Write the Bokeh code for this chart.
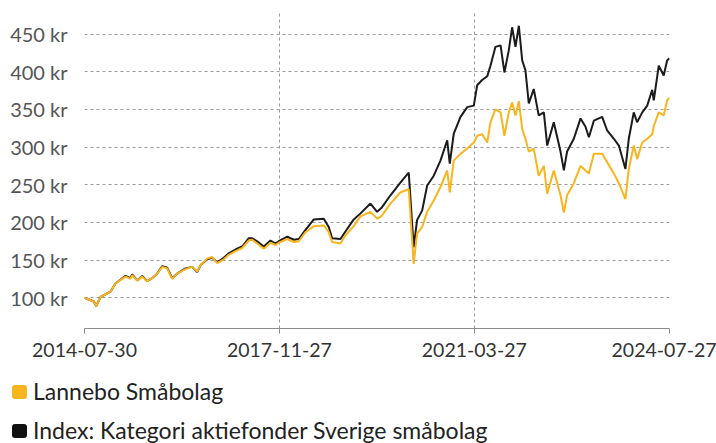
import pandas as pd
from bokeh.plotting import figure
from bokeh.layouts import column
from bokeh.models import Range1d, FixedTicker, DatetimeTickFormatter, Div
from bokeh.embed import file_html
from bokeh.resources import INLINE

# ---- data ----
dates = [
    "2014-07-30", "2014-09-26", "2014-10-11", "2014-11-07", "2015-01-08", "2015-02-08",
    "2015-04-12", "2015-05-13", "2015-05-23", "2015-06-24", "2015-07-25", "2015-08-25",
    "2015-09-25", "2015-10-26", "2015-11-27", "2015-12-28", "2016-01-28", "2016-02-28",
    "2016-04-20", "2016-06-01", "2016-07-02", "2016-07-23", "2016-09-02", "2016-10-04",
    "2016-11-04", "2016-12-15", "2017-01-15", "2017-02-26", "2017-04-09", "2017-05-20",
    "2017-06-10", "2017-07-11", "2017-08-22", "2017-10-02", "2017-11-03", "2017-11-23",
    "2018-01-15", "2018-02-25", "2018-03-28", "2018-05-09", "2018-06-30", "2018-08-31",
    "2018-10-01", "2018-10-22", "2018-12-13", "2019-01-13", "2019-03-06", "2019-04-17",
    "2019-06-18", "2019-07-30", "2019-08-25", "2019-10-21", "2019-12-23", "2020-02-12",
    "2020-03-14", "2020-04-04", "2020-05-06", "2020-06-06", "2020-07-17", "2020-08-28",
    "2020-10-09", "2020-10-25", "2020-11-19", "2020-12-31", "2021-02-11", "2021-03-24",
    "2021-04-14", "2021-05-15", "2021-06-16", "2021-07-06", "2021-08-06", "2021-09-07",
    "2021-10-01", "2021-10-28", "2021-11-18", "2021-12-09", "2021-12-30", "2022-01-20",
    "2022-02-09", "2022-03-02", "2022-04-02", "2022-05-03", "2022-06-04", "2022-06-25",
    "2022-08-05", "2022-09-16", "2022-10-07", "2022-10-27", "2022-12-08", "2023-01-19",
    "2023-02-19", "2023-03-12", "2023-04-12", "2023-06-03", "2023-07-04", "2023-08-15",
    "2023-09-15", "2023-10-26", "2023-11-16", "2023-12-17", "2024-01-07", "2024-02-08",
    "2024-03-10", "2024-04-10", "2024-04-20", "2024-05-21", "2024-06-21", "2024-07-12",
    "2024-07-27",
]
lannebo = [
    100, 95, 89, 101, 108, 119,
    128, 125, 130, 123, 128, 122,
    126, 132, 141, 139, 125, 132,
    138, 141, 135, 143, 152, 154,
    146, 151, 157, 162, 166, 176,
    177, 172, 165, 173, 170, 173,
    178, 174, 175, 187, 195, 196,
    187, 174, 172, 183, 195, 208,
    214, 205, 208, 225, 240, 244,
    145, 185, 194, 214, 229, 247,
    269, 240, 282, 291, 298, 306,
    315, 317, 306, 333, 350, 346,
    315, 346, 359, 342, 361, 324,
    311, 294, 298, 262, 275, 238,
    269, 236, 213, 236, 252, 275,
    269, 265, 291, 291, 280, 265,
    252, 231, 271, 302, 284, 306,
    311, 317, 328, 346, 342, 362,
    365,
]
index_vals = [
    100, 95, 89, 101, 108, 119,
    129, 126, 131, 123, 129, 122,
    126, 132, 142, 140, 126, 132,
    139, 141, 134, 143, 151, 153,
    147, 153, 159, 164, 168, 179,
    179, 175, 168, 176, 172, 175,
    181, 177, 178, 190, 204, 205,
    194, 179, 178, 188, 204, 212,
    225, 214, 219, 236, 253, 266,
    167, 203, 216, 249, 262, 282,
    309, 278, 318, 340, 353, 355,
    382, 389, 394, 408, 433, 435,
    399, 428, 459, 433, 461, 415,
    402, 358, 377, 342, 346, 302,
    333, 294, 269, 294, 311, 338,
    327, 313, 335, 340, 322, 311,
    302, 271, 311, 346, 333, 346,
    355, 376, 362, 408, 395, 415,
    418,
]
series_names = ["Lannebo Småbolag", "Index: Kategori aktiefonder Sverige småbolag"]
x_tick_dates = ["2014-07-30", "2017-11-27", "2021-03-27", "2024-07-27"]
y_ticks = [100, 150, 200, 250, 300, 350, 400, 450]
y_labels = [f"{v} kr" for v in y_ticks]

# ---- styling ----
ORANGE = "#F9B51E"
BLACK = "#1b1b1b"
FONT = "Lato"
series_colors = [ORANGE, "#111111"]

x = pd.to_datetime(dates)
xt = pd.to_datetime(x_tick_dates)
xt_ms = [t.value // 10**6 for t in xt]

p = figure(
    width=716, height=368, output_backend="svg", toolbar_location=None,
    x_axis_type="datetime",
    x_range=Range1d(xt[0], xt[-1]), y_range=Range1d(59.2, 478.6),
    min_border_left=84, min_border_right=47, min_border_top=12, min_border_bottom=40,
)
p.outline_line_color = None
p.background_fill_color = "white"

r_idx = p.line(x, index_vals, line_color=BLACK, line_width=2)
r_fund = p.line(x, lannebo, line_color=ORANGE, line_width=2)

# axes
p.xaxis.ticker = FixedTicker(ticks=xt_ms)
p.xaxis.formatter = DatetimeTickFormatter(
    years="%Y-%m-%d", months="%Y-%m-%d", days="%Y-%m-%d", hours="%Y-%m-%d")
p.xaxis.axis_line_color = "#8c8c8c"
p.xaxis.axis_line_width = 1
p.xaxis.major_tick_line_color = "#8c8c8c"
p.xaxis.major_tick_out = 5
p.xaxis.major_tick_in = 0
p.xaxis.minor_tick_line_color = None
p.xaxis.major_label_standoff = 9
p.xaxis.major_label_text_font = FONT
p.xaxis.major_label_text_font_size = "19.5px"
p.xaxis.major_label_text_color = "#333333"

p.yaxis.ticker = FixedTicker(ticks=y_ticks)
p.yaxis.major_label_overrides = dict(zip(y_ticks, y_labels))
p.yaxis.axis_line_color = None
p.yaxis.major_tick_line_color = None
p.yaxis.minor_tick_line_color = None
p.yaxis.major_label_standoff = 11
p.yaxis.major_label_text_font = FONT
p.yaxis.major_label_text_font_size = "20px"
p.yaxis.major_label_text_color = "#555555"

# grids
p.ygrid.ticker = FixedTicker(ticks=y_ticks)
p.ygrid.grid_line_color = "#9a9a9a"
p.ygrid.grid_line_dash = "3 3"
p.ygrid.grid_line_width = 1
p.xgrid.ticker = FixedTicker(ticks=xt_ms[:-1])
p.xgrid.grid_line_color = "#9a9a9a"
p.xgrid.grid_line_dash = "3 3"
p.xgrid.grid_line_width = 1

# ---- legend (HTML strip below the chart) ----
rows = []
for name, col in zip(series_names, series_colors):
    rows.append(
        '<div style="display:flex;align-items:center;height:39px;white-space:nowrap;">'
        f'<span style="display:inline-block;width:15px;height:14px;border-radius:3px;'
        f'background:{col};margin-right:6px;"></span>'
        f'<span>{name}</span></div>'
    )
legend_html = (
    f'<div style="font-family:{FONT};font-size:23px;color:#222222;'
    f'padding:4px 0 0 12px;line-height:39px;">' + "".join(rows) + "</div>"
)
leg = Div(text=legend_html, width=716, height=75, margin=(0, 0, 0, 0))

open("out.html", "w").write(file_html(column(p, leg, spacing=0), INLINE))
